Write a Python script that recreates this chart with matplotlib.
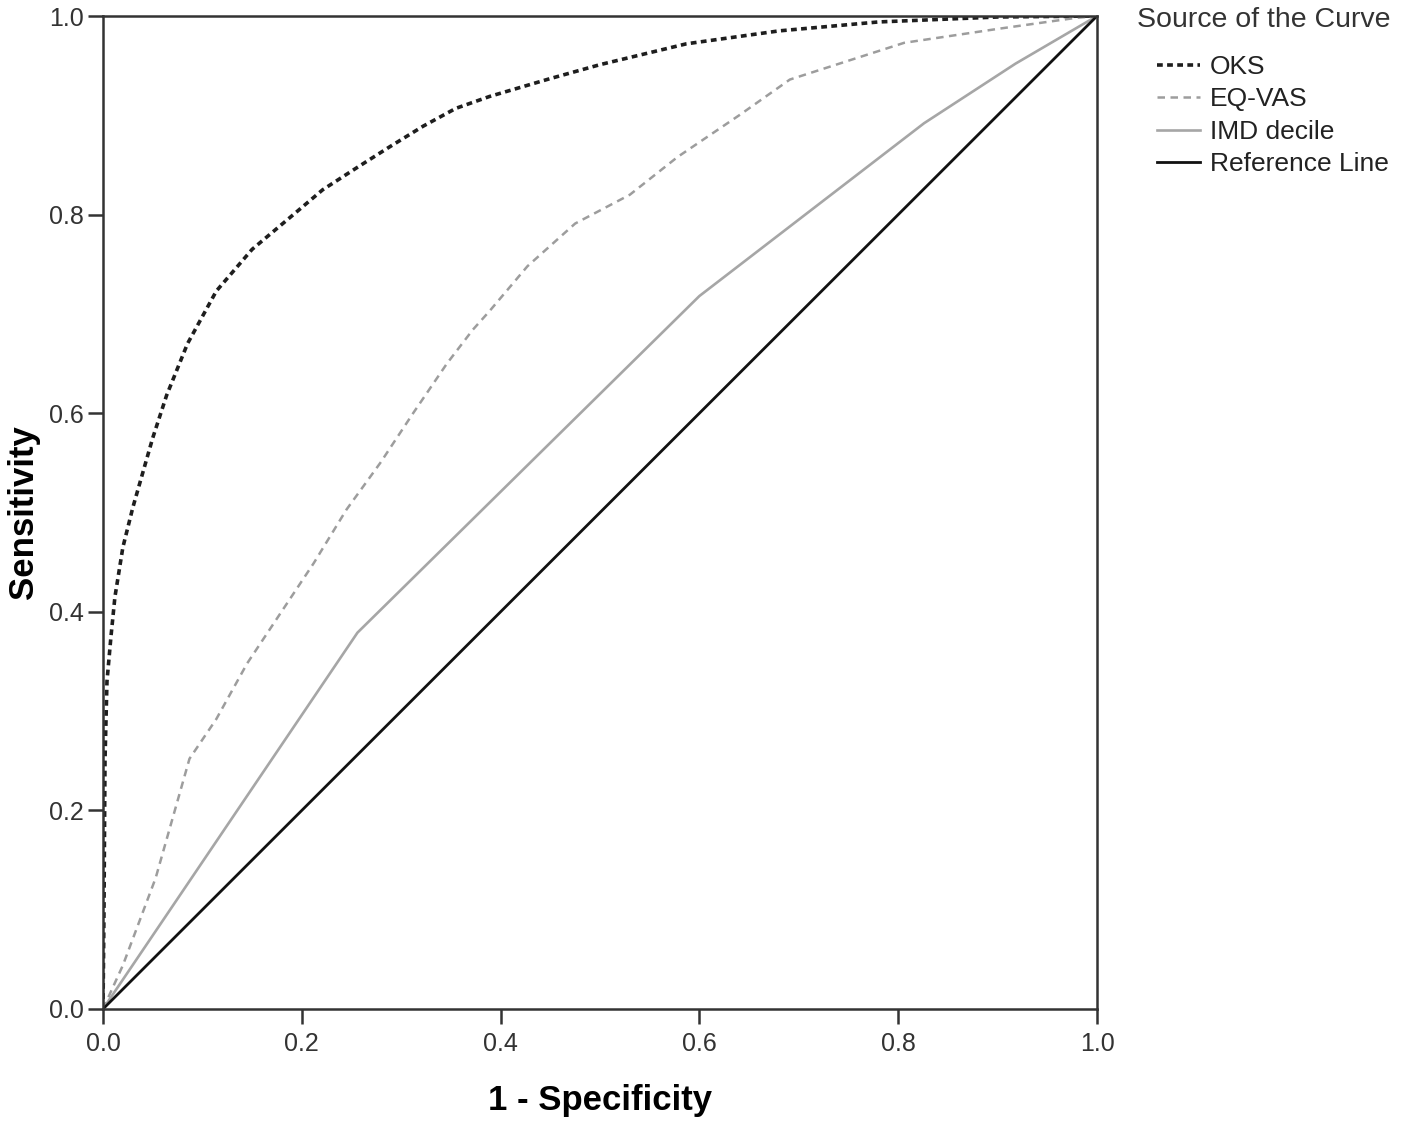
import matplotlib
matplotlib.use("Agg")
import matplotlib.pyplot as plt

# ROC curves (1 - specificity, sensitivity)
oks_x = [0, 0.001, 0.002, 0.004, 0.008, 0.012, 0.02, 0.03, 0.05, 0.064, 0.085, 0.114,
         0.15, 0.188, 0.221, 0.255, 0.288, 0.322, 0.355, 0.389, 0.45, 0.5, 0.587,
         0.68, 0.78, 0.9, 1.0]
oks_y = [0, 0.1, 0.25, 0.33, 0.375, 0.415, 0.465, 0.505, 0.575, 0.618, 0.67, 0.723,
         0.765, 0.797, 0.825, 0.847, 0.868, 0.889, 0.907, 0.919, 0.937, 0.951, 0.972,
         0.985, 0.994, 0.999, 1.0]

eq_x = [0, 0.02, 0.053, 0.087, 0.114, 0.145, 0.212, 0.245, 0.279, 0.312, 0.346, 0.372,
        0.389, 0.427, 0.475, 0.53, 0.578, 0.64, 0.691, 0.75, 0.806, 0.9, 0.978, 1.0]
eq_y = [0, 0.044, 0.132, 0.252, 0.292, 0.348, 0.449, 0.503, 0.55, 0.60, 0.65, 0.684,
        0.703, 0.748, 0.791, 0.82, 0.858, 0.90, 0.936, 0.955, 0.973, 0.987, 0.998, 1.0]

imd_x = [0, 0.256, 0.60, 0.826, 0.918, 1.0]
imd_y = [0, 0.379, 0.718, 0.892, 0.952, 1.0]

ref_x = [0, 1]
ref_y = [0, 1]

labels = ["OKS", "EQ-VAS", "IMD decile", "Reference Line"]

plt.rcParams["font.family"] = ["Liberation Sans", "DejaVu Sans"]

fig = plt.figure(figsize=(14.16, 11.24), dpi=100)
ax = fig.add_axes([103 / 1416, 1 - 1009 / 1124, 994 / 1416, 993 / 1124])

ax.plot(oks_x, oks_y, color="#1e1e1e", lw=2.6, dashes=(1.6, 1.2), label=labels[0])
ax.plot(eq_x, eq_y, color="#9d9d9d", lw=1.8, dashes=(3.0, 2.2), label=labels[1])
ax.plot(imd_x, imd_y, color="#a6a6a6", lw=1.9, label=labels[2])
ax.plot(ref_x, ref_y, color="#111111", lw=2.0, label=labels[3])

ax.set_xlim(0, 1)
ax.set_ylim(0, 1)
ticks = [0.0, 0.2, 0.4, 0.6, 0.8, 1.0]
ax.set_xticks(ticks)
ax.set_yticks(ticks)
ax.set_xticklabels(["%.1f" % t for t in ticks])
ax.set_yticklabels(["%.1f" % t for t in ticks])
ax.tick_params(direction="out", length=10.5, width=1.8, color="#333333",
               labelsize=18, labelcolor="#333333")
ax.tick_params(axis="x", pad=6)
ax.tick_params(axis="y", pad=3)

for s in ax.spines.values():
    s.set_color("#333333")
    s.set_linewidth(1.8)

ax.set_xlabel("1 - Specificity", fontsize=25, fontweight="bold", labelpad=20)
ax.set_ylabel("Sensitivity", fontsize=25, fontweight="bold", labelpad=7)

fig.text(1137 / 1416, 1 - 27 / 1124, "Source of the Curve", fontsize=20.5,
         color="#333333", ha="left", va="baseline")
fig.legend(loc="upper left", bbox_to_anchor=(1157 / 1416, 1 - 55 / 1124),
           frameon=False, fontsize=19, handlelength=1.63, handletextpad=0.38,
           labelspacing=0.32, borderpad=0, borderaxespad=0, labelcolor="#222222")

fig.savefig("out.png", dpi=100)
